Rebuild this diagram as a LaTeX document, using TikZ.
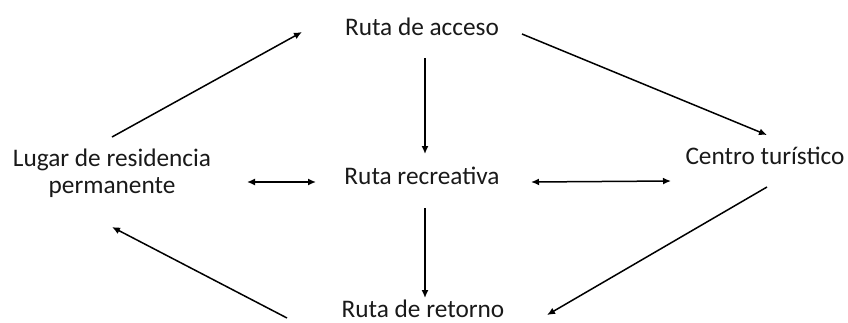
\documentclass[tikz,border=0pt]{standalone}
\usepackage{fontspec}
\setmainfont{Carlito}
\usetikzlibrary{arrows.meta}
\begin{document}
\begin{tikzpicture}[x=1pt,y=-1pt,
  lbl/.style={anchor=base,inner sep=0pt,font=\fontsize{25.3}{27}\selectfont,text=black!90},
  conn/.style={line width=1.5pt,-{Latex[length=8pt,width=7pt]}},
  dconn/.style={line width=1.5pt,{Latex[length=8pt,width=7pt]}-{Latex[length=8pt,width=7pt]}}]
\useasboundingbox (0,0) rectangle (848,322);
\node[lbl] (acc) at (422,35) {Ruta de acceso};
\node[lbl] (rec) at (422,184) {Ruta recreativa};
\node[lbl] (ret) at (423,317) {Ruta de retorno};
\node[lbl] (cen) at (765,164) {Centro turístico};
\node[lbl,align=center] (lug) at (112,193) {Lugar de residencia\\permanente};
% connector end points
\coordinate (a1) at (112,137); \coordinate (a2) at (302,32);
\coordinate (b1) at (522,34); \coordinate (b2) at (767,135);
\coordinate (c1) at (425,58); \coordinate (c2) at (425,154);
\coordinate (d1) at (425,208); \coordinate (d2) at (425,298);
\coordinate (e1) at (247,182); \coordinate (e2) at (316,182);
\coordinate (f1) at (531,182); \coordinate (f2) at (671,181);
\coordinate (g1) at (767,187); \coordinate (g2) at (547,315);
\coordinate (h1) at (287,318); \coordinate (h2) at (112,227);
\draw[conn] (a1) -- (a2);
\draw[conn] (b1) -- (b2);
\draw[conn] (c1) -- (c2);
\draw[conn] (d1) -- (d2);
\draw[dconn] (e1) -- (e2);
\draw[dconn] (f1) -- (f2);
\draw[conn] (g1) -- (g2);
\draw[conn] (h1) -- (h2);
\end{tikzpicture}
\end{document}
